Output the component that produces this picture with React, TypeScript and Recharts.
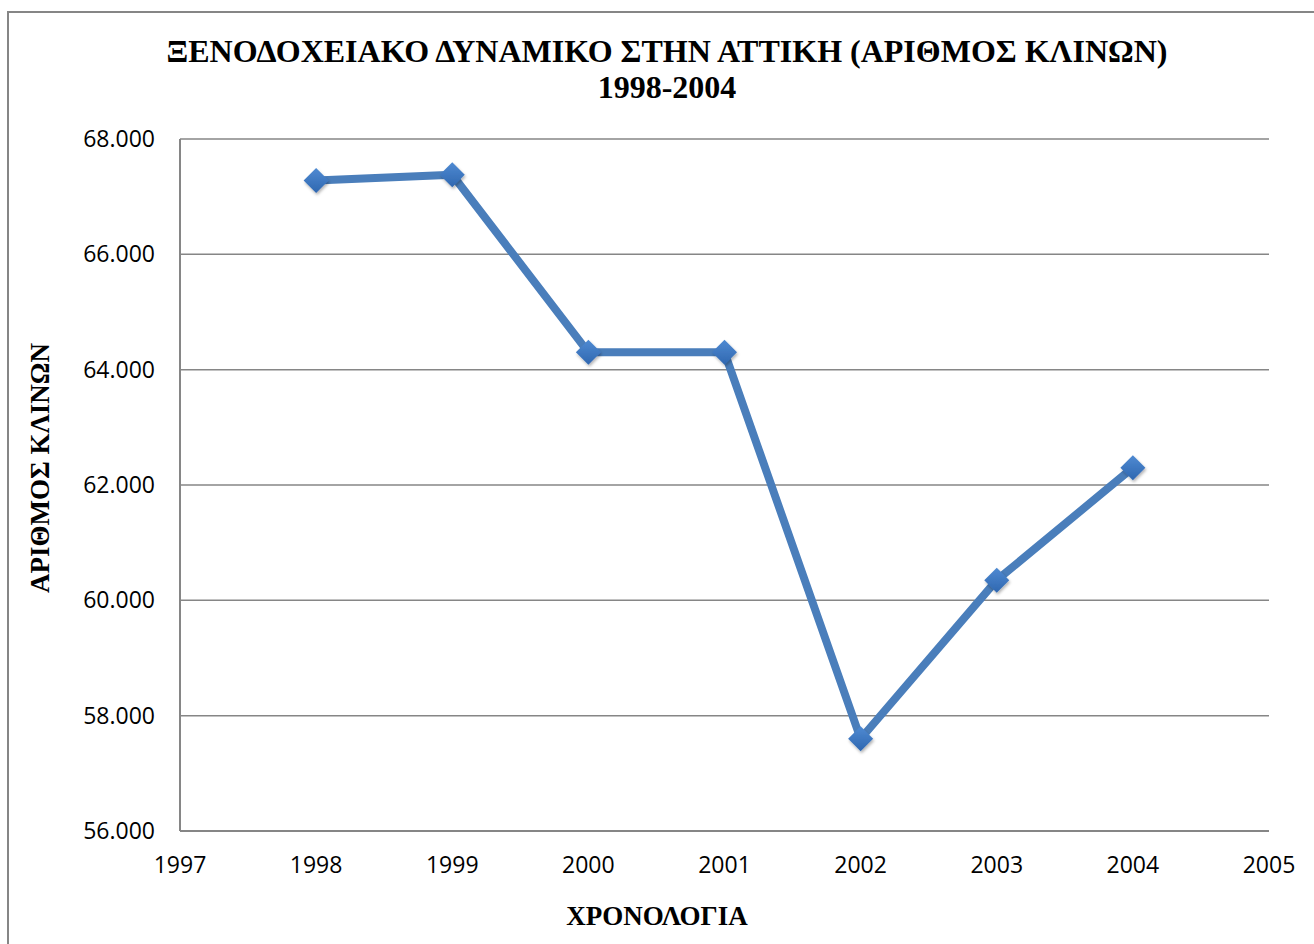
import { CartesianGrid, Line, LineChart, XAxis, YAxis } from "recharts"

// Hotel beds in Attica, 1998-2004
const years = [1998, 1999, 2000, 2001, 2002, 2003, 2004]
const beds = [67280, 67380, 64300, 64300, 57600, 60350, 62300]

const xTicks = [1997, 1998, 1999, 2000, 2001, 2002, 2003, 2004, 2005]
const yTicks = [56000, 58000, 60000, 62000, 64000, 66000, 68000]

const data = years.map((year, i) => ({ year, beds: beds[i] }))

const GRID = "#868686"
const BLUE = "#4a7ebb"
const TICK_FONT = { fontSize: 23, fill: "#000", fontFamily: "'Open Sans', sans-serif" }
const SERIF = "'Liberation Serif', 'Times New Roman', serif"

const formatThousands = (v: number) =>
  String(v).replace(/\B(?=(\d{3})+(?!\d))/g, ".")

function Diamond(props: any) {
  const { cx, cy, index } = props
  if (cx == null || cy == null) return null
  const r = 12.5
  return (
    <polygon
      key={`d-${index}`}
      points={`${cx},${cy - r} ${cx + r},${cy} ${cx},${cy + r} ${cx - r},${cy}`}
      fill="url(#markerFill)"
      filter="url(#markerShadow)"
    />
  )
}

export default function App() {
  return (
    <div
      style={{
        position: "absolute",
        left: 0,
        top: 0,
        width: 1314,
        height: 944,
        background: "#fff",
        overflow: "hidden",
      }}
    >
      {/* chart frame */}
      <div
        style={{
          position: "absolute",
          left: 7,
          top: 11,
          width: 1400,
          height: 1000,
          border: `2px solid ${GRID}`,
        }}
      />
      <div
        style={{
          position: "absolute",
          left: 0,
          width: 1334,
          top: 33,
          textAlign: "center",
          fontFamily: SERIF,
          fontWeight: "bold",
          fontSize: 32,
          lineHeight: "36px",
          color: "#000",
        }}
      >
        ΞΕΝΟΔΟΧΕΙΑΚΟ ΔΥΝΑΜΙΚΟ ΣΤΗΝ ΑΤΤΙΚΗ (ΑΡΙΘΜΟΣ ΚΛΙΝΩΝ)
        <br />
        1998-2004
      </div>
      <div
        style={{
          position: "absolute",
          left: 557,
          width: 200,
          top: 900,
          textAlign: "center",
          fontFamily: SERIF,
          fontWeight: "bold",
          fontSize: 27,
          lineHeight: "32px",
        }}
      >
        ΧΡΟΝΟΛΟΓΙΑ
      </div>
      <div
        style={{
          position: "absolute",
          left: 40 - 150,
          top: 468 - 16,
          width: 300,
          textAlign: "center",
          fontFamily: SERIF,
          fontWeight: "bold",
          fontSize: 27,
          lineHeight: "32px",
          transform: "rotate(-90deg)",
        }}
      >
        ΑΡΙΘΜΟΣ ΚΛΙΝΩΝ
      </div>

      <div style={{ position: "absolute", left: 0, top: 0 }}>
        <LineChart
          width={1314}
          height={944}
          data={data}
          margin={{ top: 139, right: 45, bottom: 0, left: 0 }}
        >
          <defs>
            <linearGradient id="markerFill" x1="0" y1="0" x2="0" y2="1">
              <stop offset="0%" stopColor="#4f8ad2" />
              <stop offset="100%" stopColor="#2f67b0" />
            </linearGradient>
            <filter id="markerShadow" x="-50%" y="-50%" width="200%" height="200%">
              <feDropShadow dx="1" dy="2" stdDeviation="1.5" floodColor="#000" floodOpacity="0.3" />
            </filter>
          </defs>
          <CartesianGrid vertical={false} stroke={GRID} strokeWidth={1.5} horizontalValues={yTicks} />
          <XAxis
            dataKey="year"
            type="number"
            domain={[1997, 2005]}
            ticks={xTicks}
            height={113}
            tickLine={false}
            tickSize={0}
            tickMargin={26}
            axisLine={{ stroke: GRID, strokeWidth: 2 }}
            tick={TICK_FONT}
            interval={0}
          />
          <YAxis
            type="number"
            domain={[56000, 68000]}
            ticks={yTicks}
            width={180}
            tickLine={false}
            tickSize={0}
            tickMargin={25}
            axisLine={{ stroke: GRID, strokeWidth: 2 }}
            tick={TICK_FONT}
            tickFormatter={formatThousands}
            interval={0}
          />
          <Line
            dataKey="beds"
            stroke={BLUE}
            strokeWidth={8}
            strokeLinejoin="round"
            dot={<Diamond />}
            activeDot={false}
            isAnimationActive={false}
          />
        </LineChart>
      </div>
    </div>
  )
}
